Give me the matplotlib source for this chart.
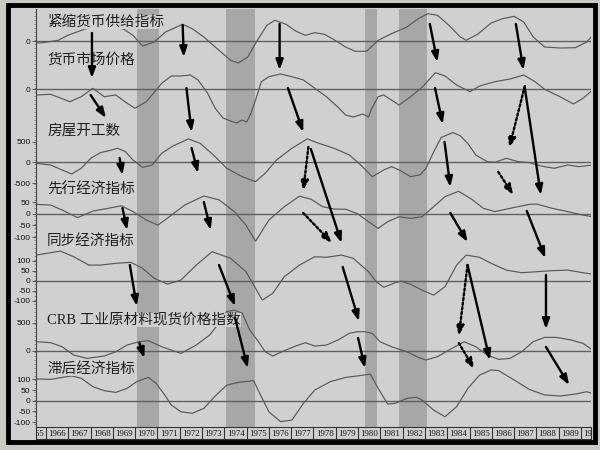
import matplotlib
matplotlib.use("Agg")
import matplotlib.pyplot as plt
from matplotlib.patches import Rectangle
from matplotlib.ticker import MultipleLocator

# ---------------- data ----------------
years_axis = list(range(1965, 1991))
recessions = [(1970.08, 1971.07), (1974.07, 1975.37), (1980.3, 1980.85), (1981.83, 1983.08)]

# 1 紧缩货币供给指标 (relative units)
s1_x = [1965.55, 1965.86, 1966.55, 1966.98, 1967.75, 1968.61, 1969.47, 1969.90, 1970.33, 1970.85, 1971.36,
        1972.13, 1972.56, 1973.08, 1973.59, 1974.28, 1974.63, 1975.05, 1975.48, 1975.91, 1976.26, 1976.77,
        1977.20, 1977.63, 1978.06, 1978.49, 1978.92, 1979.44, 1979.87, 1980.38, 1980.90, 1981.50, 1982.19,
        1982.70, 1983.13, 1983.56, 1984.08, 1984.59, 1984.85, 1985.36, 1985.97, 1986.48, 1987.00, 1987.43,
        1987.86, 1988.37, 1989.06, 1989.75, 1990.26, 1990.52]
s1_y = [-2, -1.7, 0.7, 5.7, 12, 15.7, 12, 5.7, -5, -1, 9,
        16.7, 12.3, 4, -6, -19.3, -22, -16, 0.7, 15.7, 20.7, 16.7,
        10, 5.7, 8.3, 6.7, 1.3, -6, -10.3, -10.3, 0.7, 7.3, 14,
        22.3, 27.3, 25.7, 15.7, 4, 0.7, 6.7, 18, 22.3, 24.7, 19,
        4, -6, -7, -6.7, -1, 5.7]

# 2 货币市场价格 (relative units)
s2_x = [1965.55, 1966.21, 1967.07, 1967.58, 1968.10, 1968.61, 1969.13, 1969.64, 1969.99, 1970.50, 1971.19,
        1971.62, 1972.05, 1972.48, 1972.82, 1973.25, 1973.59, 1973.94, 1974.28, 1974.54, 1974.80, 1975.00,
        1975.18, 1975.40, 1975.66, 1976.00, 1976.52, 1977.03, 1977.55, 1978.06, 1978.58, 1979.09, 1979.44,
        1979.78, 1980.21, 1980.47, 1980.60, 1980.90, 1981.15, 1981.84, 1982.36, 1982.87, 1983.47, 1983.90,
        1984.42, 1985.02, 1985.45, 1986.14, 1986.82, 1987.43, 1987.94, 1988.37, 1989.06, 1989.66, 1990.09,
        1990.52]
s2_y = [-6, -5.3, -12.7, -7.7, 0.7, -7.7, -6, -14.3, -19.3, -12.7, 5.7,
        13, 13, 14, 9, -4.3, -19.3, -29, -32, -34, -31, -33,
        -25, -11, 7.3, 12.3, 15, 12.3, 9, 0.7, -7.7, -18, -26,
        -28, -25, -28, -20, -7.7, -6, -16, -7.7, 1.7, 16.3, 13,
        4, -2.7, 3, 7.3, 10, 14, 7.3, -0.3, -7.7, -15, -9.3,
        -1]

# 3 房屋开工数
s3_x = [1965.55, 1966.21, 1966.72, 1967.15, 1967.58, 1968.01, 1968.44, 1968.96, 1969.21, 1969.56, 1969.90,
        1970.33, 1970.76, 1971.19, 1971.70, 1972.39, 1972.91, 1973.51, 1974.11, 1974.80, 1975.40, 1975.83,
        1976.34, 1977.03, 1977.72, 1978.23, 1978.92, 1979.61, 1980.12, 1980.64, 1981.15, 1981.50, 1981.84,
        1982.36, 1982.79, 1983.04, 1983.39, 1983.73, 1984.25, 1984.59, 1984.93, 1985.28, 1985.79, 1986.14,
        1986.65, 1987.17, 1987.68, 1988.20, 1988.80, 1989.40, 1989.92, 1990.52]
s3_y = [-24, -65, -185, -282, -145, 97, 234, 298, 339, 258, 56,
        -121, -65, 218, 395, 565, 460, 177, -145, -347, -468, -266,
        56, 339, 565, 460, 339, 177, -65, -347, -185, -105, -185,
        -347, -300, -150, 250, 600, 718, 640, 450, 177, 16, 0,
        97, 16, -8, -89, -145, -65, -105, -65]

# 4 先行经济指标
s4_x = [1965.55, 1966.21, 1966.72, 1967.41, 1968.10, 1968.78, 1969.38, 1969.90, 1970.50, 1971.02, 1971.53,
        1972.22, 1973.08, 1973.77, 1974.45, 1974.97, 1975.40, 1976.00, 1976.69, 1977.37, 1977.89,
        1978.41, 1978.92, 1979.44, 1979.95, 1980.47, 1980.90, 1981.33, 1981.84, 1982.36, 1982.87, 1983.39,
        1983.90, 1984.51, 1985.11, 1985.62, 1986.14, 1986.82, 1987.68, 1988.03, 1988.71, 1989.40, 1990.09,
        1990.52]
s4_y = [40, 37, 16, -17, 11, 23, 34, 9, -27, -49, -13,
        37, 76, 59, 9, -49, -118, -27, 30, 75, 62,
        30, 20, 19, 1, -34, -63, -34, -13, -20, -13, 30,
        73, 96, 61, 23, 9, 23, 40, 41, 23, 9, -6,
        -13]

# 5 同步经济指标
s5_x = [1965.55, 1966.21, 1966.64, 1967.24, 1967.92, 1968.44, 1969.13, 1969.81, 1970.33, 1970.85, 1971.45,
        1972.05, 1972.74, 1973.45, 1974.28, 1974.97, 1975.40, 1975.70, 1976.17, 1976.69, 1977.37, 1978.06,
        1978.58, 1979.26, 1979.78, 1980.47, 1980.81, 1981.15, 1981.67, 1981.93, 1982.36, 1982.87, 1983.39,
        1983.90, 1984.42, 1984.85, 1985.45, 1985.97, 1986.65, 1987.34, 1988.03, 1988.71, 1989.40, 1990.09,
        1990.52]
s5_y = [128, 140, 148, 120, 78, 78, 87, 92, 62, 12, -17,
        3, 78, 145, 112, 45, -38, -97, -63, 20, 78, 120,
        117, 128, 112, 45, -5, -33, -10, -2, -18, -47, -72,
        -30, 78, 128, 117, 87, 53, 40, 45, 50, 53, 40,
        33]

# 6 CRB 工业原材料现货价格指数
s6_x = [1965.55, 1966.21, 1966.72, 1967.24, 1967.84, 1968.61, 1969.13, 1969.64, 1970.16, 1970.59, 1971.19,
        1972.05, 1972.74, 1973.34, 1973.77, 1974.11, 1974.45, 1974.80, 1975.14, 1975.48, 1975.83, 1976.17,
        1976.69, 1977.20, 1977.63, 1978.06, 1978.58, 1979.09, 1979.61, 1979.95, 1980.30, 1980.64,
        1980.98, 1981.50, 1982.19, 1982.70, 1983.04, 1983.56, 1984.08, 1984.76, 1985.28, 1985.79, 1986.31,
        1986.82, 1987.34, 1987.86, 1988.37, 1988.89, 1989.57, 1990.09, 1990.52]
s6_y = [161, 143, 71, -77, -137, -95, -18, 101, 161, 179, 71,
        -48, 101, 280, 494, 700, 725, 670, 369, 190, -18, -95,
        0, 83, 143, 83, 101, 190, 310, 339, 339, 310,
        161, 71, -18, -119, -167, -107, 12, 161, 71, -77, -155,
        -137, -18, 161, 238, 238, 190, 131, 12]

# 7 滞后经济指标
s7_x = [1965.55, 1966.21, 1966.72, 1967.15, 1967.58, 1968.10, 1968.61, 1969.13, 1969.64, 1970.07, 1970.59,
        1970.94, 1971.28, 1971.62, 1972.05, 1972.56, 1973.08, 1973.59, 1974.11, 1974.63, 1975.31,
        1975.66, 1976.00, 1976.52, 1977.03, 1977.55, 1978.06, 1978.75, 1979.44, 1980.04, 1980.55, 1980.90,
        1981.33, 1981.67, 1982.19, 1982.62, 1982.87, 1983.39, 1983.90, 1984.42, 1984.93, 1985.45, 1985.97,
        1986.31, 1987.00, 1987.68, 1988.37, 1989.06, 1989.75, 1990.26, 1990.52]
s7_y = [102, 100, 109, 116, 105, 66, 47, 39, 58, 89, 109,
        81, 34, -20, -52, -59, -36, 22, 73, 86, 94,
        19, -52, -98, -91, -12, 50, 89, 109, 117, 125,
        58, -16, -12, 11, 16, 3, -44, -75, -28, 58, 120,
        144, 141, 97, 53, 27, 22, 31, 42, 34]

labels = ["紧缩货币供给指标", "货币市场价格", "房屋开工数", "先行经济指标",
          "同步经济指标", "CRB 工业原材料现货价格指数", "滞后经济指标"]
tick_values = [[0], [0], [500, 0, -500], [50, 0, -50, -100],
               [100, 50, 0, -50, -100], [500, 0], [100, 50, 0, -50, -100]]

# arrows: (x0, y0, x1, y1, dotted) -- y in screen-row units of the stacked panel
arrows = [
    (1968.06, 33, 1968.06, 78, False), (1972.13, 25, 1972.18, 57, False),
    (1976.48, 24, 1976.48, 70, False), (1983.22, 24, 1983.56, 62, False),
    (1987.08, 24, 1987.42, 70, False),
    (1968.00, 95, 1968.69, 118, False), (1972.30, 88, 1972.53, 132, False),
    (1976.85, 88, 1977.54, 132, False), (1983.45, 88, 1983.80, 124, False),
    (1987.48, 86, 1986.78, 148, True), (1987.48, 88, 1988.20, 195, False),
    (1969.30, 158, 1969.43, 175, False), (1972.53, 148, 1972.82, 173, False),
    (1977.77, 147, 1977.54, 191, True), (1977.88, 149, 1979.26, 243, False),
    (1983.88, 142, 1984.14, 187, False), (1986.29, 172, 1986.97, 195, True),
    (1969.43, 208, 1969.64, 230, False), (1973.08, 202, 1973.39, 230, False),
    (1977.54, 213, 1978.83, 243, True), (1984.14, 213, 1984.91, 242, False),
    (1987.57, 211, 1988.40, 258, False),
    (1969.76, 265, 1970.07, 306, False), (1973.76, 265, 1974.48, 306, False),
    (1979.31, 267, 1980.04, 321, False), (1984.91, 265, 1984.52, 336, True),
    (1984.91, 265, 1985.91, 360, False), (1988.43, 275, 1988.43, 329, False),
    (1970.19, 343, 1970.41, 358, False), (1974.48, 318, 1975.05, 368, False),
    (1980.00, 338, 1980.31, 368, False), (1984.52, 343, 1985.21, 369, True),
    (1988.43, 347, 1989.47, 385, False),
]

# ---------------- layout / style ----------------
series_x = [s1_x, s2_x, s3_x, s4_x, s5_x, s6_x, s7_x]
series_y = [s1_y, s2_y, s3_y, s4_y, s5_y, s6_y, s7_y]
bases = [41, 89, 162.3, 213.7, 280.7, 350.7, 400.7]
scales = [1.0, 1.0, 20.7 / 500, 11.67 / 50, 10.0 / 50, 28.0 / 500, 10.67 / 50]
label_rows = [22, 60, 131, 190, 241, 320, 369]

BG = "#d0d0d0"
OUTER = "#cbc9c4"
BAND = "#a7a7a7"
LINE = "#585858"

W, H = 600, 450
fig = plt.figure(figsize=(6, 4.5), dpi=100, facecolor=OUTER)
fig.patches.append(Rectangle((8 / W, 1 - 442 / H), 587 / W, 437 / H, transform=fig.transFigure,
                             facecolor=BG, edgecolor="none", zorder=-10))
fig.patches.append(Rectangle((8 / W, 1 - 442 / H), 587 / W, 437 / H, transform=fig.transFigure,
                             fill=False, edgecolor="black", lw=3.5, zorder=10))

x0, x1 = 1965.55, 1990.45
ax = fig.add_axes([36 / W, 1 - 427 / H, 555 / W, 418 / H])
ax.set_facecolor(BG)
ax.set_xlim(x0, x1)
ax.set_ylim(427, 9)

for a, b in recessions:
    ax.axvspan(a, b, color=BAND, lw=0, zorder=0)

for xs, ys, b, s in zip(series_x, series_y, bases, scales):
    ax.axhline(b, color="#606060", lw=1.0, zorder=1)
    ax.plot(xs, [b - s * v for v in ys], color=LINE, lw=0.85, zorder=2)

txt_font = ["Liberation Serif", "Noto Sans CJK SC"]
for lab, r in zip(labels, label_rows):
    ax.text(1966.05, r, lab, fontsize=10.5, family=txt_font, color="#1e1e1e", va="center", ha="left",
            zorder=3, bbox=dict(facecolor=BG, edgecolor="none", pad=0.3))

for (ax0, ay0, ax1, ay1, dotted) in arrows:
    ax.annotate("", xy=(ax1, ay1), xytext=(ax0, ay0),
                arrowprops=dict(arrowstyle="-|>,head_length=0.6,head_width=0.22", color="black", lw=1.7,
                                linestyle=(0, (1, 1)) if dotted else "-",
                                mutation_scale=10, shrinkA=0, shrinkB=0),
                zorder=4)

ticks, tlabels = [], []
for vals, b, s in zip(tick_values, bases, scales):
    for v in vals:
        ticks.append(b - s * v)
        tlabels.append(str(v))
ax.set_yticks(ticks)
ax.set_yticklabels(tlabels, fontsize=6, family="Liberation Sans", color="#111111")
ax.yaxis.set_minor_locator(MultipleLocator(4))
ax.tick_params(axis="y", which="major", length=3, width=0.6, pad=1, color="#444444")
ax.tick_params(axis="y", which="minor", length=1.5, width=0.5, color="#666666")
ax.set_xticks([])
for sp in ["top", "right", "bottom"]:
    ax.spines[sp].set_visible(False)
ax.spines["left"].set_color("#444444")
ax.spines["left"].set_linewidth(0.8)

# year row
axy = fig.add_axes([36 / W, 1 - 439 / H, 555 / W, 12 / H])
axy.set_facecolor(BG)
axy.set_xlim(x0, x1)
axy.set_ylim(0, 1)
for y in years_axis:
    axy.axvline(y, color="#333333", lw=0.8)
    axy.text(y + 0.5, 0.45, str(y), fontsize=6.3, family="Liberation Serif", ha="center", va="center",
             color="#111111", clip_on=True)
axy.set_xticks([])
axy.set_yticks([])
for sp in axy.spines.values():
    sp.set_color("#333333")
    sp.set_linewidth(0.8)

fig.savefig("out.png", dpi=100, facecolor=OUTER)
